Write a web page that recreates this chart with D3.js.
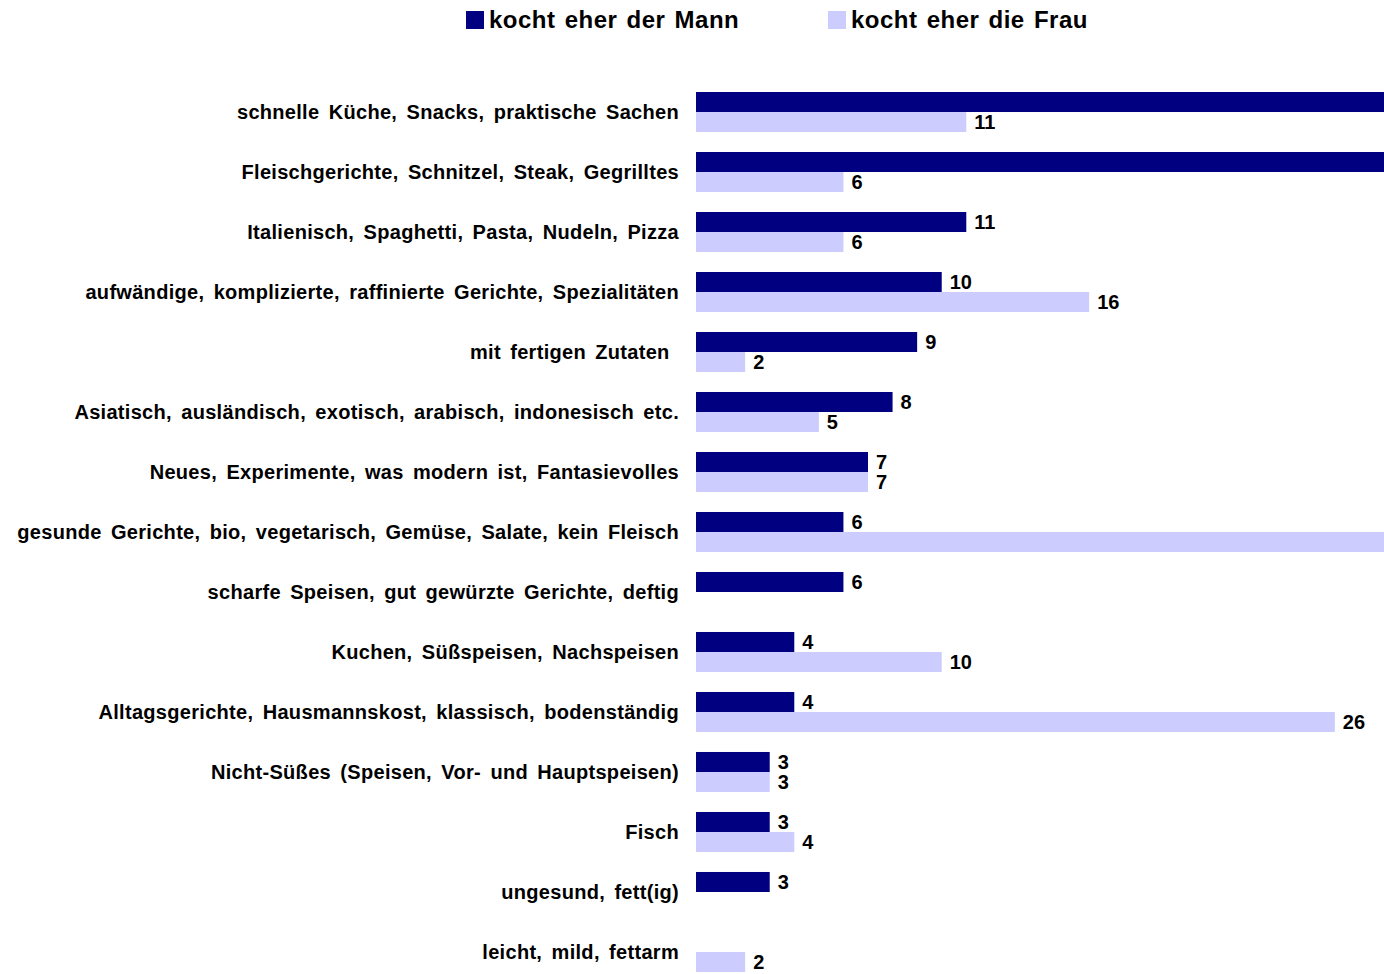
<!DOCTYPE html>
<html>
<head>
<meta charset="utf-8">
<script src="https://cdn.jsdelivr.net/npm/d3@7"></script>
<style>
  body { margin: 0; background: white; }
  svg { display: block; font-family: Arial, "Liberation Sans", sans-serif; }
</style>
</head>
<body>
<svg></svg>
<script>
var categories = [
    "schnelle Küche, Snacks, praktische Sachen",
    "Fleischgerichte, Schnitzel, Steak, Gegrilltes",
    "Italienisch, Spaghetti, Pasta, Nudeln, Pizza",
    "aufwändige, komplizierte, raffinierte Gerichte, Spezialitäten",
    "mit fertigen Zutaten ",
    "Asiatisch, ausländisch, exotisch, arabisch, indonesisch etc.",
    "Neues, Experimente, was modern ist, Fantasievolles",
    "gesunde Gerichte, bio, vegetarisch, Gemüse, Salate, kein Fleisch",
    "scharfe Speisen, gut gewürzte Gerichte, deftig",
    "Kuchen, Süßspeisen, Nachspeisen",
    "Alltagsgerichte, Hausmannskost, klassisch, bodenständig",
    "Nicht-Süßes (Speisen, Vor- und Hauptspeisen)",
    "Fisch",
    "ungesund, fett(ig)",
    "leicht, mild, fettarm"
];
// bars that run past the right edge are cut off in the original, values estimated
var mann = [32, 30, 11, 10, 9, 8, 7, 6, 6, 4, 4, 3, 3, 3, null];
var frau = [11, 6, 6, 16, 2, 5, 7, 31, null, 10, 26, 3, 4, null, 2];
var seriesNames = ["kocht eher der Mann", "kocht eher die Frau"];
var colors = ["#000080", "#ccccff"];

var svgWidth = 1384, svgHeight = 974, xMax = 28;

var svg = d3.select('svg')
    .attr('width', svgWidth)
    .attr('height', svgHeight);

var x = d3.scaleLinear().domain([0, xMax]).range([696, 1384]);
var y = d3.scaleBand().domain(categories).range([82, 982]).paddingInner(0.333).paddingOuter(0.1667);
var sub = d3.scaleBand().domain([0, 1]).range([0, y.bandwidth()]);

// legend
var legend = svg.append('g');
var legX = [466, 828];
seriesNames.forEach(function(name, i) {
    legend.append('rect')
        .attr('x', legX[i]).attr('y', 11)
        .attr('width', 18).attr('height', 18)
        .attr('fill', colors[i]);
    legend.append('text')
        .attr('x', legX[i] + 23).attr('y', 28)
        .attr('font-size', '24px').attr('font-weight', 'bold')
        .style('word-spacing', '2px')
        .style('letter-spacing', '0.5px')
        .attr('fill', '#000')
        .text(name);
});

// category labels
svg.append('g').selectAll('text')
    .data(categories)
    .enter()
    .append('text')
    .attr('x', 679)
    .attr('y', function(d) { return y(d) + y.bandwidth() / 2 + 7; })
    .attr('text-anchor', 'end')
    .attr('font-size', '20px')
    .attr('font-weight', 'bold')
    .style('white-space', 'pre')
    .style('word-spacing', '3.5px')
    .style('letter-spacing', '0.3px')
    .text(function(d) { return d; });

[mann, frau].forEach(function(vals, s) {
    var rows = vals.map(function(v, i) { return { v: v, c: categories[i] }; })
        .filter(function(d) { return d.v != null; });

    svg.append('g').selectAll('rect')
        .data(rows)
        .enter()
        .append('rect')
        .attr('x', x(0))
        .attr('y', function(d) { return y(d.c) + sub(s); })
        .attr('width', function(d) { return x(d.v) - x(0); })
        .attr('height', sub.bandwidth())
        .attr('fill', colors[s]);

    // labels of bars cut at the edge are out of view
    svg.append('g').selectAll('text')
        .data(rows.filter(function(d) { return d.v < xMax; }))
        .enter()
        .append('text')
        .attr('x', function(d) { return x(d.v) + 8; })
        .attr('y', function(d) { return y(d.c) + sub(s) + sub.bandwidth() / 2 + 7; })
        .attr('font-size', '20px')
        .attr('font-weight', 'bold')
        .text(function(d) { return d.v; });
});
</script>
</body>
</html>
